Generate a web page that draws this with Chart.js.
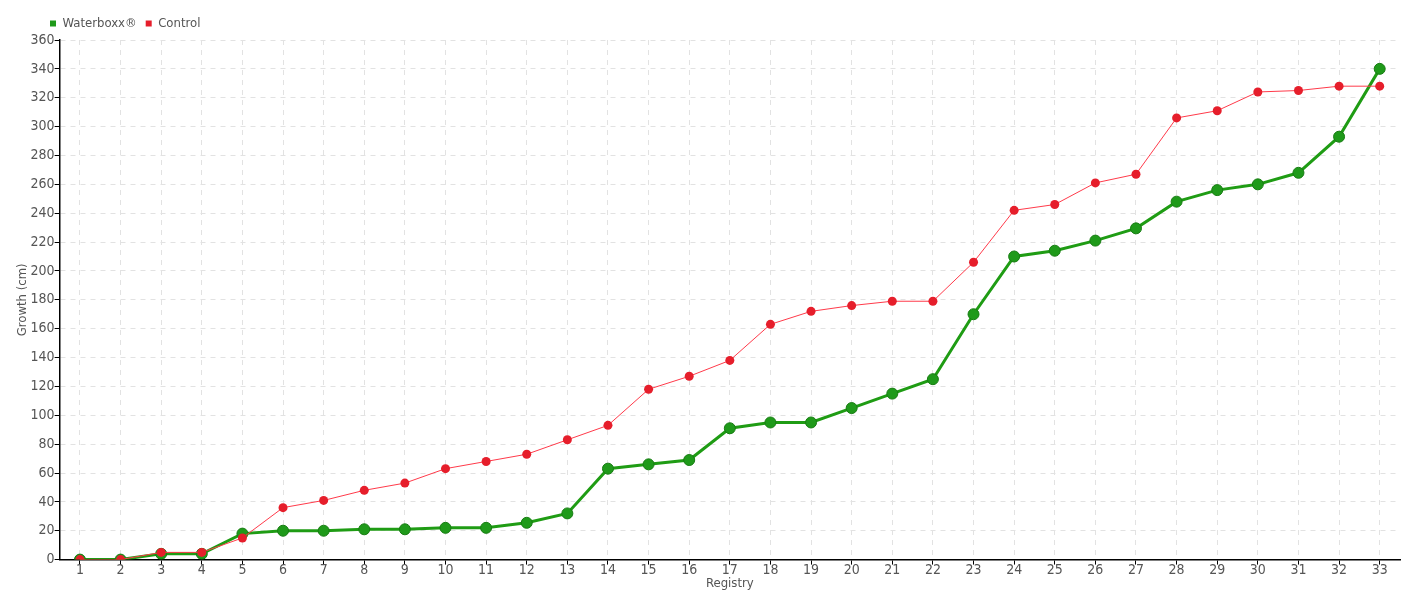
<!DOCTYPE html>
<html>
<head>
<meta charset="utf-8">
<script src="https://cdn.jsdelivr.net/npm/chart.js@4/dist/chart.umd.min.js"></script>
<style>
  html, body { margin: 0; padding: 0; background: #fff; }
  #wrap { width: 1420px; height: 600px; }
</style>
</head>
<body>
<div id="wrap"><canvas id="chart"></canvas></div>
<script>
const registry = ['1', '2', '3', '4', '5', '6', '7', '8', '9', '10', '11', '12', '13', '14', '15', '16', '17',
  '18', '19', '20', '21', '22', '23', '24', '25', '26', '27', '28', '29', '30', '31', '32', '33']

const waterboxx = [0, 0, 4, 4, 18, 20, 20, 21, 21, 22, 22, 25.5, 32, 63, 66, 69, 91, 95, 95, 105, 115, 125,
  170, 210, 214, 221, 229.5, 248, 256, 260, 268, 293, 340]

const control = [0, 0, 5, 5, 15, 36, 41, 48, 53, 63, 68, 73, 83, 93, 118, 127, 138, 163, 172, 176, 179, 179,
  206, 242, 246, 261, 267, 306, 311, 324, 325, 328, 328]

const fontFamily = "'DejaVu Sans Condensed', 'Liberation Sans Narrow', sans-serif"
const textColor = '#555'

// nudge the legend to the right, like the original sits over the axis
const legendShift = {
  id: 'legendShift',
  afterLayout (chart) {
    const lg = chart.legend
    if (!lg) return
    lg.left += 26
    lg.right += 26
  }
}

const canvas = document.getElementById('chart')
const chart = new Chart(canvas.getContext('2d'), {
  type: 'line',
  data: {
    labels: registry,
    datasets: [
      {
        label: 'Waterboxx®',
        data: waterboxx,
        order: 1,
        borderColor: '#1f9c14',
        backgroundColor: '#1f9a1a',
        pointBorderColor: '#177c12',
        pointBorderWidth: 1,
        borderWidth: 3,
        pointRadius: 5.5,
        tension: 0
      },
      {
        label: 'Control',
        data: control,
        order: 0,
        borderColor: '#ff3a4a',
        backgroundColor: '#e61e2b',
        pointBorderColor: '#e61e2b',
        pointBorderWidth: 0,
        borderWidth: 1,
        pointRadius: 4.5,
        tension: 0
      }
    ]
  },
  options: {
    responsive: true,
    maintainAspectRatio: false,
    animation: false,
    layout: { padding: { left: 15, right: 20, top: 8, bottom: 9 } },
    scales: {
      x: {
        offset: true,
        grid: { color: '#e2e2e2', tickColor: '#000', tickLength: 5 },
        border: { display: true, color: '#000', width: 1.5, dash: [5, 5] },
        ticks: { color: textColor, font: { family: fontFamily, size: 14 }, padding: -3, maxRotation: 0 },
        title: { display: true, text: 'Registry', color: textColor, font: { family: fontFamily, size: 13 }, padding: 0 }
      },
      y: {
        min: 0,
        max: 360,
        grid: { color: '#e2e2e2', tickColor: '#000', tickLength: 5 },
        border: { display: true, color: '#000', width: 1.5, dash: [5, 5] },
        ticks: { stepSize: 20, color: textColor, font: { family: fontFamily, size: 14 }, padding: 0 },
        title: { display: true, text: 'Growth (cm)', color: textColor, font: { family: fontFamily, size: 13 }, padding: 0 }
      }
    },
    plugins: {
      legend: {
        display: true,
        position: 'top',
        align: 'start',
        labels: {
          boxWidth: 6,
          boxHeight: 6,
          color: textColor,
          padding: 9,
          font: { family: fontFamily, size: 13 },
          sort: (a, b) => a.datasetIndex - b.datasetIndex,
          generateLabels: (c) => Chart.defaults.plugins.legend.labels.generateLabels(c).map((item) => {
            item.fillStyle = c.data.datasets[item.datasetIndex].backgroundColor
            item.strokeStyle = item.fillStyle
            item.lineWidth = 0
            return item
          })
        }
      },
      tooltip: { enabled: false }
    }
  },
  plugins: [legendShift]
})
</script>
</body>
</html>
